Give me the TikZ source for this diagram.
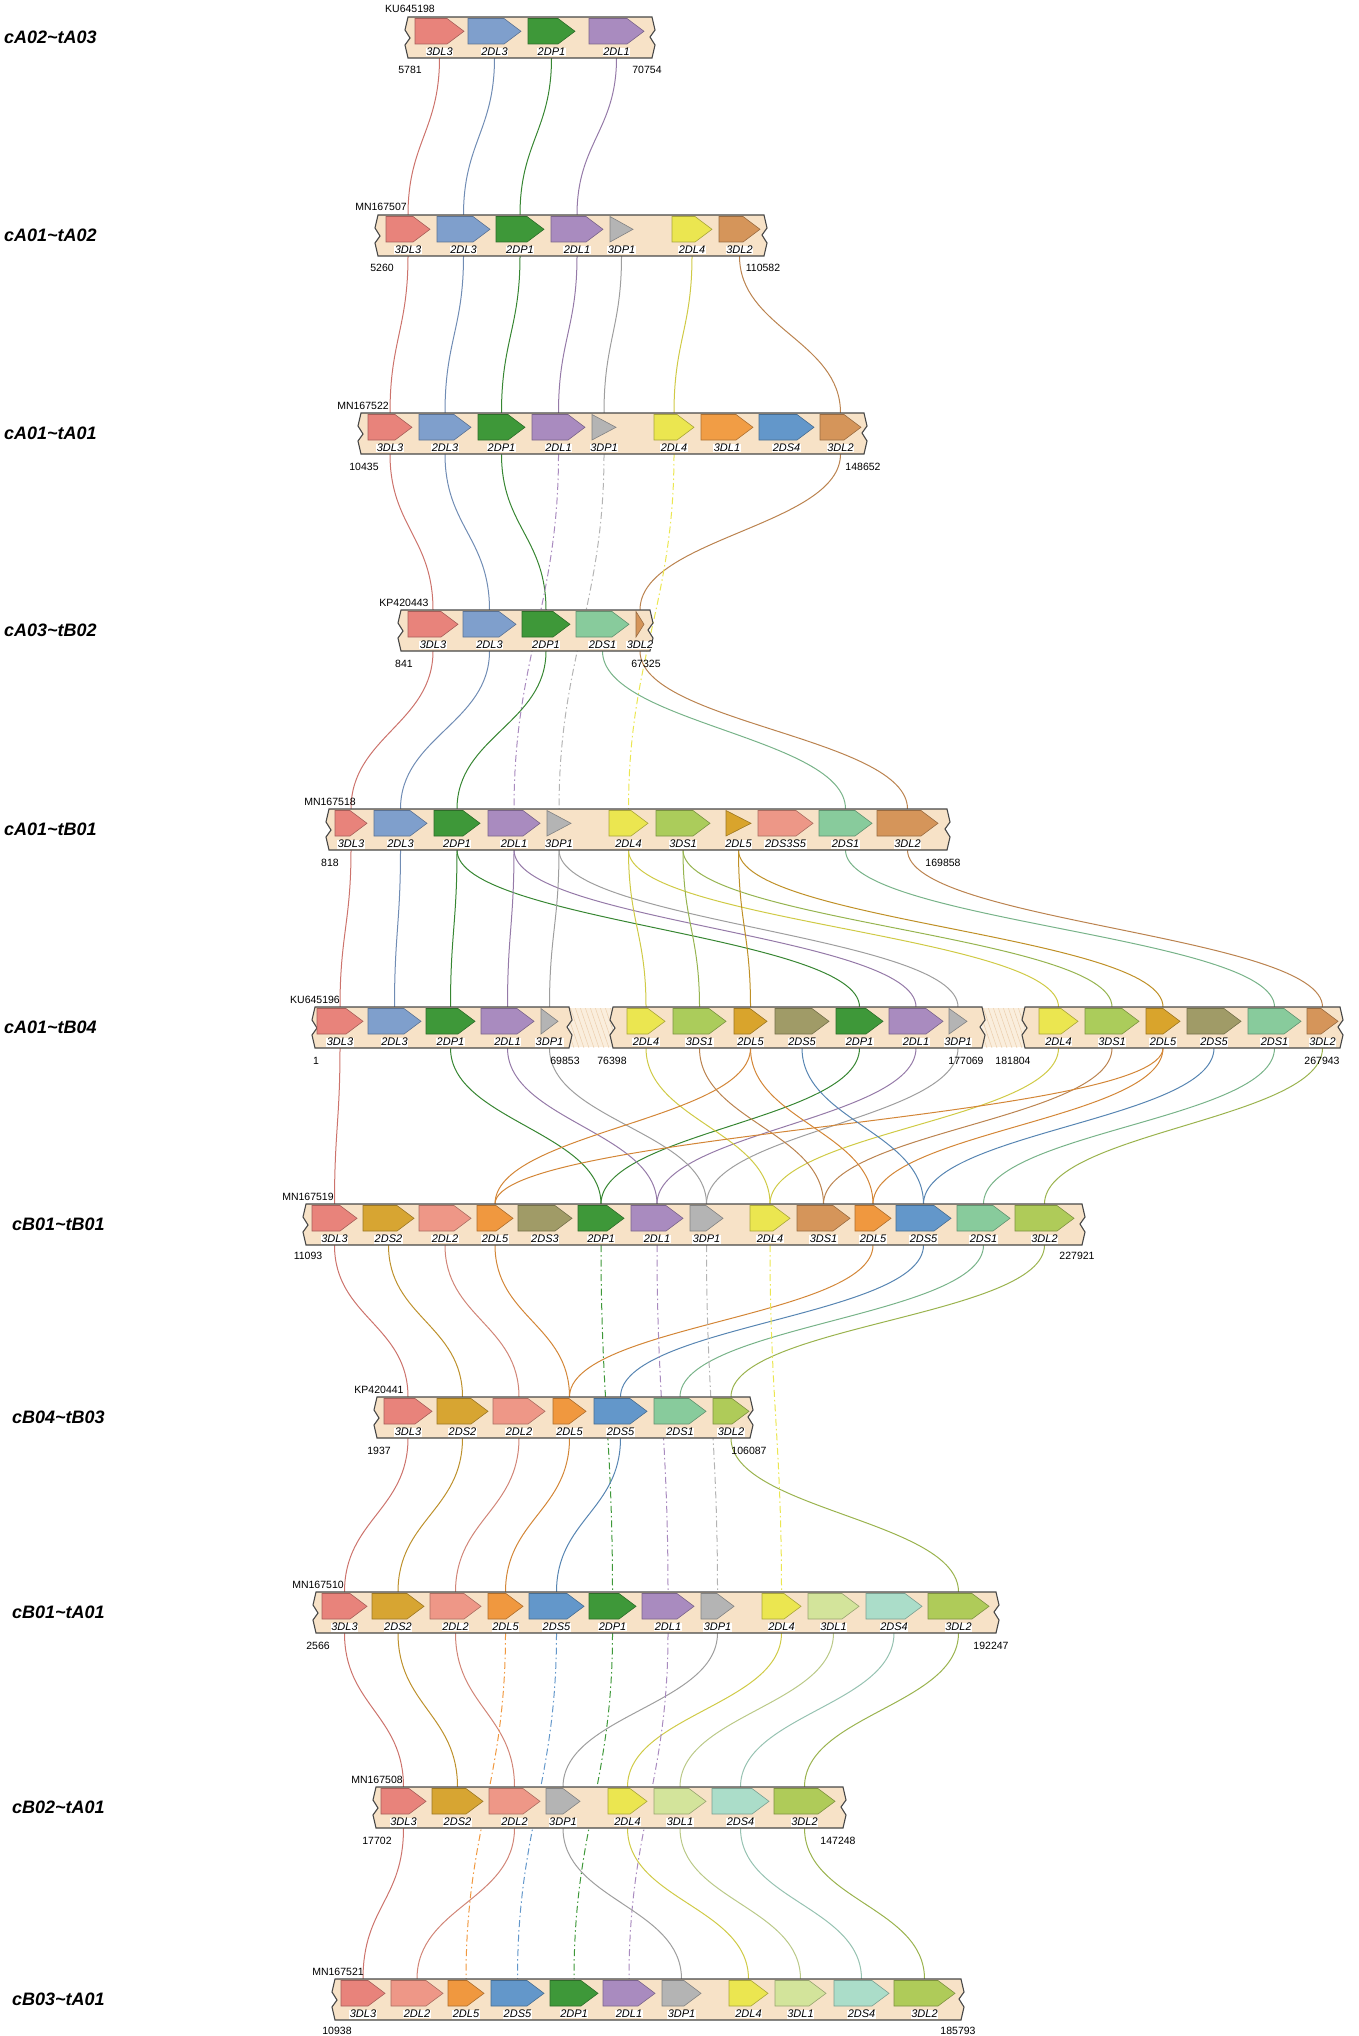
\documentclass[tikz,border=0pt]{standalone}
\usepackage{fontspec}
\setmainfont{Liberation Sans}
\usetikzlibrary{calc}

\definecolor{barbeige}{RGB}{247,226,199}
\definecolor{c3DL3}{RGB}{232,131,123}
\definecolor{c2DL3}{RGB}{127,159,204}
\definecolor{c2DP1}{RGB}{62,152,57}
\definecolor{c2DL1}{RGB}{169,139,191}
\definecolor{c3DP1}{RGB}{180,180,180}
\definecolor{c2DL4}{RGB}{235,230,80}
\definecolor{c3DL2}{RGB}{213,149,90}
\definecolor{c3DL1}{RGB}{241,157,69}
\definecolor{c2DS4}{RGB}{99,151,202}
\definecolor{c2DS1}{RGB}{136,203,156}
\definecolor{c3DS1}{RGB}{171,204,91}
\definecolor{c2DL5a}{RGB}{217,164,44}
\definecolor{c2DS3S5}{RGB}{237,151,135}
\definecolor{c2DS5a}{RGB}{160,155,103}
\definecolor{c2DS2}{RGB}{215,165,50}
\definecolor{c2DL2}{RGB}{238,151,135}
\definecolor{c2DL5b}{RGB}{240,152,63}
\definecolor{c2DS5b}{RGB}{99,151,202}
\definecolor{c3DL2b}{RGB}{175,203,89}
\definecolor{c3DL1b}{RGB}{211,228,155}
\definecolor{c2DS4b}{RGB}{171,221,201}

\pgfdeclarelayer{links}
\pgfsetlayers{links,main}

\tikzset{
  rowlab/.style={font=\fontsize{18}{20}\selectfont\bfseries\itshape, anchor=west, inner sep=0pt},
  genelabel/.style={font=\fontsize{11}{12}\selectfont\itshape, fill=white, inner sep=0.6pt},
  acc/.style={font=\fontsize{10.5}{12}\selectfont, anchor=base, inner sep=0pt},
  coordlab/.style={font=\fontsize{10.5}{12}\selectfont, anchor=base, inner sep=0pt},
  barline/.style={draw=black!72, line width=1.1pt},
  link/.style={draw=#1!88!black, line width=1pt},
  dlink/.style={draw=#1, line width=1pt, dash pattern=on 7pt off 3pt on 1.5pt off 3pt},
  gapline/.style={draw=barbeige!80!brown, line width=0.5pt},
}

% chromosome bar with broken ends
\newcommand\chrom[2]{%
  \filldraw[barline, fill=barbeige] (#1,\rowtop) -- (#2,\rowtop) -- ++(3,13) -- ++(-5,7) -- ++(5,8)
    -- (#2,\rowtop+41) -- (#1,\rowtop+41) -- ++(-3,-13) -- ++(5,-7) -- ++(-5,-8) -- cycle;
}
% hatched gap in a bar
\newcommand\gap[2]{%
  \fill[barbeige!60!white] (#1,\rowtop+1) rectangle (#2,\rowtop+40);
  \begin{scope}
    \clip (#1,\rowtop+1) rectangle (#2,\rowtop+40);
    \foreach \k in {0,5,...,60} \draw[gapline] (#1+\k-14,\rowtop) -- ++(14,41);
  \end{scope}
}
% gene arrow: index, x1, x2, colour, label
\newcommand\gene[5]{%
  \pgfmathsetmacro\gc{(#2+#3)/2}
  \pgfmathsetmacro\gh{((#3)-(#2))<26 ? ((#3)-(#2)) : 17}
  \pgfmathsetmacro\gn{#3-\gh}
  \filldraw[fill=#4, draw=#4!72!black, line width=0.6pt] (#2,\rowtop+1.5) -- (\gn,\rowtop+1.5)
    -- (#3,\rowtop+14.3) -- (\gn,\rowtop+27) -- (#2,\rowtop+27) -- cycle;
  \node[genelabel] (\rowname g#1) at (\gc,\rowtop+35) {#5};
  \coordinate (\rowname g#1t) at (\gc,\rowtop);
  \coordinate (\rowname g#1b) at (\gc,\rowtop+41);
}
\newcommand\lnk[3]{\draw[link=#1] (#2) .. controls +(0,72) and +(0,-72) .. (#3);}
\newcommand\dlnk[3]{\draw[dlink=#1] (#2) .. controls +(0,150) and +(0,-150) .. (#3);}

\begin{document}
\begin{tikzpicture}[x=1pt,y=-1pt]
\useasboundingbox (0,0) rectangle (1358,2036);

% row 1
\def\rowtop{17}\def\rowname{r1}
\node[rowlab] (lab1) at (4,37.5) {cA02\textasciitilde tA03};
\chrom{408}{652}
\node[acc] (acc1) at (410,13) {KU645198};
\node[coordlab] (n1a) at (410,74) {5781};
\node[coordlab] (n1b) at (647,74) {70754};
\gene{1}{415}{464}{c3DL3}{3DL3}
\gene{2}{468}{521}{c2DL3}{2DL3}
\gene{3}{528}{575}{c2DP1}{2DP1}
\gene{4}{589}{644}{c2DL1}{2DL1}

% row 2
\def\rowtop{215}\def\rowname{r2}
\node[rowlab] (lab2) at (4,235.5) {cA01\textasciitilde tA02};
\chrom{378}{764}
\node[acc] (acc2) at (381,211) {MN167507};
\node[coordlab] (n2a) at (382,272) {5260};
\node[coordlab] (n2b) at (763,272) {110582};
\gene{1}{386}{430}{c3DL3}{3DL3}
\gene{2}{437}{490}{c2DL3}{2DL3}
\gene{3}{496}{544}{c2DP1}{2DP1}
\gene{4}{551}{603}{c2DL1}{2DL1}
\gene{5}{610}{633}{c3DP1}{3DP1}
\gene{6}{672}{712}{c2DL4}{2DL4}
\gene{7}{719}{760}{c3DL2}{3DL2}

% row 3
\def\rowtop{413}\def\rowname{r3}
\node[rowlab] (lab3) at (4,433.5) {cA01\textasciitilde tA01};
\chrom{361}{864}
\node[acc] (acc3) at (363,409) {MN167522};
\node[coordlab] (n3a) at (364,470) {10435};
\node[coordlab] (n3b) at (863,470) {148652};
\gene{1}{368}{412}{c3DL3}{3DL3}
\gene{2}{419}{471}{c2DL3}{2DL3}
\gene{3}{478}{525}{c2DP1}{2DP1}
\gene{4}{532}{585}{c2DL1}{2DL1}
\gene{5}{592}{616}{c3DP1}{3DP1}
\gene{6}{654}{694}{c2DL4}{2DL4}
\gene{7}{701}{753}{c3DL1}{3DL1}
\gene{8}{759}{814}{c2DS4}{2DS4}
\gene{9}{820}{861}{c3DL2}{3DL2}

% row 4
\def\rowtop{610}\def\rowname{r4}
\node[rowlab] (lab4) at (4,630.5) {cA03\textasciitilde tB02};
\chrom{401}{650}
\node[acc] (acc4) at (404,606) {KP420443};
\node[coordlab] (n4a) at (404,667) {841};
\node[coordlab] (n4b) at (646,667) {67325};
\gene{1}{408}{458}{c3DL3}{3DL3}
\gene{2}{463}{516}{c2DL3}{2DL3}
\gene{3}{522}{570}{c2DP1}{2DP1}
\gene{4}{576}{629}{c2DS1}{2DS1}
\gene{5}{636}{644}{c3DL2}{3DL2}

% row 5
\def\rowtop{809}\def\rowname{r5}
\node[rowlab] (lab5) at (4,829.5) {cA01\textasciitilde tB01};
\chrom{329}{947}
\node[acc] (acc5) at (330,805) {MN167518};
\node[coordlab] (n5a) at (330,866) {818};
\node[coordlab] (n5b) at (943,866) {169858};
\gene{1}{335}{367}{c3DL3}{3DL3}
\gene{2}{374}{427}{c2DL3}{2DL3}
\gene{3}{434}{480}{c2DP1}{2DP1}
\gene{4}{488}{540}{c2DL1}{2DL1}
\gene{5}{547}{571}{c3DP1}{3DP1}
\gene{6}{609}{648}{c2DL4}{2DL4}
\gene{7}{656}{710}{c3DS1}{3DS1}
\gene{8}{726}{751}{c2DL5a}{2DL5}
\gene{9}{758}{813}{c2DS3S5}{2DS3S5}
\gene{10}{819}{872}{c2DS1}{2DS1}
\gene{11}{877}{938}{c3DL2}{3DL2}

% row 6
\def\rowtop{1007}\def\rowname{r6}
\node[rowlab] (lab6) at (4,1027.5) {cA01\textasciitilde tB04};
\gap{569}{613}
\gap{982}{1025}
\chrom{315}{569}
\chrom{613}{982}
\chrom{1025}{1340}
\node[acc] (acc6) at (315,1003) {KU645196};
\node[coordlab] (n6a) at (316,1064) {1};
\node[coordlab] (n6b) at (565,1064) {69853};
\node[coordlab] (n6c) at (612,1064) {76398};
\node[coordlab] (n6d) at (966,1064) {177069};
\node[coordlab] (n6e) at (1013,1064) {181804};
\node[coordlab] (n6f) at (1322,1064) {267943};
\gene{1}{317}{363}{c3DL3}{3DL3}
\gene{2}{368}{421}{c2DL3}{2DL3}
\gene{3}{426}{475}{c2DP1}{2DP1}
\gene{4}{481}{534}{c2DL1}{2DL1}
\gene{5}{541}{558}{c3DP1}{3DP1}
\gene{6}{627}{665}{c2DL4}{2DL4}
\gene{7}{673}{726}{c3DS1}{3DS1}
\gene{8}{734}{767}{c2DL5a}{2DL5}
\gene{9}{775}{829}{c2DS5a}{2DS5}
\gene{10}{836}{883}{c2DP1}{2DP1}
\gene{11}{889}{943}{c2DL1}{2DL1}
\gene{12}{949}{967}{c3DP1}{3DP1}
\gene{13}{1039}{1078}{c2DL4}{2DL4}
\gene{14}{1085}{1139}{c3DS1}{3DS1}
\gene{15}{1146}{1180}{c2DL5a}{2DL5}
\gene{16}{1187}{1241}{c2DS5a}{2DS5}
\gene{17}{1248}{1301}{c2DS1}{2DS1}
\gene{18}{1307}{1338}{c3DL2}{3DL2}

% row 7
\def\rowtop{1204}\def\rowname{r7}
\node[rowlab] (lab7) at (12,1224.5) {cB01\textasciitilde tB01};
\chrom{306}{1082}
\node[acc] (acc7) at (308,1200) {MN167519};
\node[coordlab] (n7a) at (308,1259) {11093};
\node[coordlab] (n7b) at (1077,1259) {227921};
\gene{1}{312}{357}{c3DL3}{3DL3}
\gene{2}{363}{414}{c2DS2}{2DS2}
\gene{3}{419}{471}{c2DL2}{2DL2}
\gene{4}{477}{513}{c2DL5b}{2DL5}
\gene{5}{518}{572}{c2DS5a}{2DS3}
\gene{6}{578}{624}{c2DP1}{2DP1}
\gene{7}{631}{683}{c2DL1}{2DL1}
\gene{8}{690}{723}{c3DP1}{3DP1}
\gene{9}{750}{790}{c2DL4}{2DL4}
\gene{10}{797}{850}{c3DL2}{3DS1}
\gene{11}{855}{891}{c2DL5b}{2DL5}
\gene{12}{896}{951}{c2DS5b}{2DS5}
\gene{13}{957}{1010}{c2DS1}{2DS1}
\gene{14}{1015}{1074}{c3DL2b}{3DL2}

% row 8
\def\rowtop{1397}\def\rowname{r8}
\node[rowlab] (lab8) at (12,1417.5) {cB04\textasciitilde tB03};
\chrom{377}{750}
\node[acc] (acc8) at (379,1393) {KP420441};
\node[coordlab] (n8a) at (379,1454) {1937};
\node[coordlab] (n8b) at (749,1454) {106087};
\gene{1}{384}{432}{c3DL3}{3DL3}
\gene{2}{437}{488}{c2DS2}{2DS2}
\gene{3}{493}{545}{c2DL2}{2DL2}
\gene{4}{553}{586}{c2DL5b}{2DL5}
\gene{5}{594}{647}{c2DS5b}{2DS5}
\gene{6}{654}{706}{c2DS1}{2DS1}
\gene{7}{713}{749}{c3DL2b}{3DL2}

% row 9
\def\rowtop{1592}\def\rowname{r9}
\node[rowlab] (lab9) at (12,1612.5) {cB01\textasciitilde tA01};
\chrom{316}{996}
\node[acc] (acc9) at (318,1588) {MN167510};
\node[coordlab] (n9a) at (318,1649) {2566};
\node[coordlab] (n9b) at (991,1649) {192247};
\gene{1}{322}{367}{c3DL3}{3DL3}
\gene{2}{372}{424}{c2DS2}{2DS2}
\gene{3}{430}{481}{c2DL2}{2DL2}
\gene{4}{488}{523}{c2DL5b}{2DL5}
\gene{5}{529}{584}{c2DS5b}{2DS5}
\gene{6}{589}{636}{c2DP1}{2DP1}
\gene{7}{642}{694}{c2DL1}{2DL1}
\gene{8}{701}{734}{c3DP1}{3DP1}
\gene{9}{762}{801}{c2DL4}{2DL4}
\gene{10}{808}{859}{c3DL1b}{3DL1}
\gene{11}{866}{922}{c2DS4b}{2DS4}
\gene{12}{928}{989}{c3DL2b}{3DL2}

% row 10
\def\rowtop{1787}\def\rowname{r10}
\node[rowlab] (lab10) at (12,1807.5) {cB02\textasciitilde tA01};
\chrom{376}{843}
\node[acc] (acc10) at (377,1783) {MN167508};
\node[coordlab] (n10a) at (377,1844) {17702};
\node[coordlab] (n10b) at (838,1844) {147248};
\gene{1}{381}{426}{c3DL3}{3DL3}
\gene{2}{432}{483}{c2DS2}{2DS2}
\gene{3}{489}{540}{c2DL2}{2DL2}
\gene{4}{546}{580}{c3DP1}{3DP1}
\gene{5}{608}{647}{c2DL4}{2DL4}
\gene{6}{654}{706}{c3DL1b}{3DL1}
\gene{7}{712}{769}{c2DS4b}{2DS4}
\gene{8}{774}{835}{c3DL2b}{3DL2}

% row 11
\def\rowtop{1979}\def\rowname{r11}
\node[rowlab] (lab11) at (12,1999.5) {cB03\textasciitilde tA01};
\chrom{335}{961}
\node[acc] (acc11) at (338,1975) {MN167521};
\node[coordlab] (n11a) at (337,2034) {10938};
\node[coordlab] (n11b) at (958,2034) {185793};
\gene{1}{341}{385}{c3DL3}{3DL3}
\gene{2}{391}{443}{c2DL2}{2DL2}
\gene{3}{448}{484}{c2DL5b}{2DL5}
\gene{4}{491}{544}{c2DS5b}{2DS5}
\gene{5}{550}{598}{c2DP1}{2DP1}
\gene{6}{603}{655}{c2DL1}{2DL1}
\gene{7}{662}{701}{c3DP1}{3DP1}
\gene{8}{729}{768}{c2DL4}{2DL4}
\gene{9}{775}{826}{c3DL1b}{3DL1}
\gene{10}{834}{889}{c2DS4b}{2DS4}
\gene{11}{894}{955}{c3DL2b}{3DL2}

% links between neighbouring rows
\begin{pgfonlayer}{links}
\lnk{c3DL3}{r1g1b}{r2g1t}
\lnk{c2DL3}{r1g2b}{r2g2t}
\lnk{c2DP1}{r1g3b}{r2g3t}
\lnk{c2DL1}{r1g4b}{r2g4t}
%
\lnk{c3DL3}{r2g1b}{r3g1t}
\lnk{c2DL3}{r2g2b}{r3g2t}
\lnk{c2DP1}{r2g3b}{r3g3t}
\lnk{c2DL1}{r2g4b}{r3g4t}
\lnk{c3DP1}{r2g5b}{r3g5t}
\lnk{c2DL4}{r2g6b}{r3g6t}
\lnk{c3DL2}{r2g7b}{r3g9t}
%
\lnk{c3DL3}{r3g1b}{r4g1t}
\lnk{c2DL3}{r3g2b}{r4g2t}
\lnk{c2DP1}{r3g3b}{r4g3t}
\lnk{c3DL2}{r3g9b}{r4g5t}
\dlnk{c2DL1}{r3g4b}{r5g4t}
\dlnk{c3DP1}{r3g5b}{r5g5t}
\dlnk{c2DL4}{r3g6b}{r5g6t}
%
\lnk{c3DL3}{r4g1b}{r5g1t}
\lnk{c2DL3}{r4g2b}{r5g2t}
\lnk{c2DP1}{r4g3b}{r5g3t}
\lnk{c2DS1}{r4g4b}{r5g10t}
\lnk{c3DL2}{r4g5b}{r5g11t}
%
\lnk{c3DL3}{r5g1b}{r6g1t}
\lnk{c2DL3}{r5g2b}{r6g2t}
\lnk{c2DP1}{r5g3b}{r6g3t}
\lnk{c2DP1}{r5g3b}{r6g10t}
\lnk{c2DL1}{r5g4b}{r6g4t}
\lnk{c2DL1}{r5g4b}{r6g11t}
\lnk{c3DP1}{r5g5b}{r6g5t}
\lnk{c3DP1}{r5g5b}{r6g12t}
\lnk{c2DL4}{r5g6b}{r6g6t}
\lnk{c2DL4}{r5g6b}{r6g13t}
\lnk{c3DS1}{r5g7b}{r6g7t}
\lnk{c3DS1}{r5g7b}{r6g14t}
\lnk{c2DL5a}{r5g8b}{r6g8t}
\lnk{c2DL5a}{r5g8b}{r6g15t}
\lnk{c2DS1}{r5g10b}{r6g17t}
\lnk{c3DL2}{r5g11b}{r6g18t}
%
\lnk{c3DL3}{r6g1b}{r7g1t}
\lnk{c2DP1}{r6g3b}{r7g6t}
\lnk{c2DP1}{r6g10b}{r7g6t}
\lnk{c2DL1}{r6g4b}{r7g7t}
\lnk{c2DL1}{r6g11b}{r7g7t}
\lnk{c3DP1}{r6g5b}{r7g8t}
\lnk{c3DP1}{r6g12b}{r7g8t}
\lnk{c2DL4}{r6g6b}{r7g9t}
\lnk{c2DL4}{r6g13b}{r7g9t}
\lnk{c3DL2}{r6g7b}{r7g10t}
\lnk{c3DL2}{r6g14b}{r7g10t}
\lnk{c2DL5b}{r6g8b}{r7g4t}
\lnk{c2DL5b}{r6g8b}{r7g11t}
\lnk{c2DL5b}{r6g15b}{r7g4t}
\lnk{c2DL5b}{r6g15b}{r7g11t}
\lnk{c2DS5b}{r6g9b}{r7g12t}
\lnk{c2DS5b}{r6g16b}{r7g12t}
\lnk{c2DS1}{r6g17b}{r7g13t}
\lnk{c3DL2b}{r6g18b}{r7g14t}
%
\lnk{c3DL3}{r7g1b}{r8g1t}
\lnk{c2DS2}{r7g2b}{r8g2t}
\lnk{c2DL2}{r7g3b}{r8g3t}
\lnk{c2DL5b}{r7g4b}{r8g4t}
\lnk{c2DL5b}{r7g11b}{r8g4t}
\lnk{c2DS5b}{r7g12b}{r8g5t}
\lnk{c2DS1}{r7g13b}{r8g6t}
\lnk{c3DL2b}{r7g14b}{r8g7t}
\dlnk{c2DP1}{r7g6b}{r9g6t}
\dlnk{c2DL1}{r7g7b}{r9g7t}
\dlnk{c3DP1}{r7g8b}{r9g8t}
\dlnk{c2DL4}{r7g9b}{r9g9t}
%
\lnk{c3DL3}{r8g1b}{r9g1t}
\lnk{c2DS2}{r8g2b}{r9g2t}
\lnk{c2DL2}{r8g3b}{r9g3t}
\lnk{c2DL5b}{r8g4b}{r9g4t}
\lnk{c2DS5b}{r8g5b}{r9g5t}
\lnk{c3DL2b}{r8g7b}{r9g12t}
%
\lnk{c3DL3}{r9g1b}{r10g1t}
\lnk{c2DS2}{r9g2b}{r10g2t}
\lnk{c2DL2}{r9g3b}{r10g3t}
\lnk{c3DP1}{r9g8b}{r10g4t}
\lnk{c2DL4}{r9g9b}{r10g5t}
\lnk{c3DL1b}{r9g10b}{r10g6t}
\lnk{c2DS4b}{r9g11b}{r10g7t}
\lnk{c3DL2b}{r9g12b}{r10g8t}
\dlnk{c2DL5b}{r9g4b}{r11g3t}
\dlnk{c2DS5b}{r9g5b}{r11g4t}
\dlnk{c2DP1}{r9g6b}{r11g5t}
\dlnk{c2DL1}{r9g7b}{r11g6t}
%
\lnk{c3DL3}{r10g1b}{r11g1t}
\lnk{c2DL2}{r10g3b}{r11g2t}
\lnk{c3DP1}{r10g4b}{r11g7t}
\lnk{c2DL4}{r10g5b}{r11g8t}
\lnk{c3DL1b}{r10g6b}{r11g9t}
\lnk{c2DS4b}{r10g7b}{r11g10t}
\lnk{c3DL2b}{r10g8b}{r11g11t}
\end{pgfonlayer}

\end{tikzpicture}
\end{document}
